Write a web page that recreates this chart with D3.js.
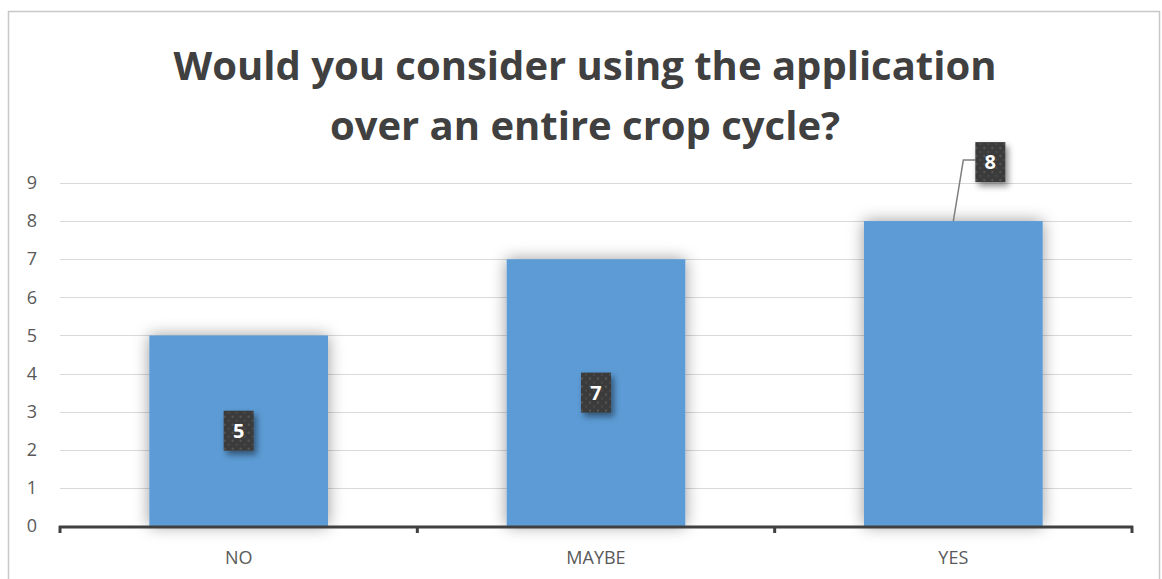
<!DOCTYPE html>
<html>
<head>
<meta charset="utf-8">
<script src="https://cdn.jsdelivr.net/npm/d3@7"></script>
<style>
  html, body { margin: 0; padding: 0; background: #fff; }
  svg { display: block; }
</style>
</head>
<body>
<svg id="chart" width="1162" height="579"></svg>
<script>
const categories = ["NO", "MAYBE", "YES"];
const values = [5, 7, 8];
const yTicks = [0, 1, 2, 3, 4, 5, 6, 7, 8, 9];
const titleLines = ["Would you consider using the application", "over an entire crop cycle?"];

const svg = d3.select("#chart");
const plot = { left: 60, right: 1132, top: 183, bottom: 526 };

const defs = svg.append("defs");

// soft glow around each bar
const glow = defs.append("filter").attr("id", "barGlow")
  .attr("x", "-25%").attr("y", "-10%").attr("width", "150%").attr("height", "120%");
glow.append("feDropShadow").attr("dx", 0).attr("dy", 0)
  .attr("stdDeviation", 8).attr("flood-color", "#000").attr("flood-opacity", 0.4);

// shadow under the data label boxes
const lblShadow = defs.append("filter").attr("id", "lblShadow")
  .attr("x", "-50%").attr("y", "-50%").attr("width", "200%").attr("height", "200%");
lblShadow.append("feDropShadow").attr("dx", 3).attr("dy", 4)
  .attr("stdDeviation", 3).attr("flood-color", "#000").attr("flood-opacity", 0.45);

// dotted fill for label boxes
const pat = defs.append("pattern").attr("id", "dots")
  .attr("width", 8).attr("height", 8).attr("patternUnits", "userSpaceOnUse");
pat.append("rect").attr("width", 8).attr("height", 8).attr("fill", "#3a3a3a");
pat.append("circle").attr("cx", 2).attr("cy", 2).attr("r", 1.2).attr("fill", "#555");
pat.append("circle").attr("cx", 6).attr("cy", 6).attr("r", 1.2).attr("fill", "#4a4a4a");

// chart frame
svg.append("rect").attr("x", 8.5).attr("y", 11.5).attr("width", 1151).attr("height", 600)
  .attr("fill", "#fff").attr("stroke", "#c8c8c8").attr("stroke-width", 1.5);

const x = d3.scaleBand().domain(categories).range([plot.left, plot.right])
  .paddingInner(0.5).paddingOuter(0.25);
const y = d3.scaleLinear().domain([0, 9]).range([plot.bottom, plot.top]);

// title
const title = svg.append("text").attr("text-anchor", "middle")
  .attr("font-family", "'Open Sans', sans-serif").attr("font-weight", 700)
  .attr("font-size", 40).attr("fill", "#404040");
titleLines.forEach((t, i) => {
  title.append("tspan").attr("x", 585).attr("y", 80 + i * 60).text(t);
});

// gridlines
svg.append("g").selectAll("line").data(yTicks.filter(d => d > 0)).join("line")
  .attr("x1", plot.left).attr("x2", plot.right)
  .attr("y1", d => Math.round(y(d)) + 0.5).attr("y2", d => Math.round(y(d)) + 0.5)
  .attr("stroke", "#d9d9d9").attr("stroke-width", 1);

// y axis labels
const yAxis = d3.axisLeft(y).tickValues(yTicks).tickSize(0).tickPadding(0);
const yg = svg.append("g").attr("transform", `translate(40,0)`).call(yAxis);
yg.select(".domain").remove();
yg.selectAll("text").attr("text-anchor", "middle").attr("x", -8)
  .attr("font-family", "'Open Sans', sans-serif").attr("font-size", 18).attr("fill", "#595959");

// bars
svg.append("g").selectAll("rect").data(values).join("rect")
  .attr("x", (d, i) => x(categories[i]))
  .attr("y", d => y(d))
  .attr("width", x.bandwidth())
  .attr("height", d => y(0) - y(d))
  .attr("fill", "#5b9bd5")
  .attr("filter", "url(#barGlow)");

// x axis
const step = x.step();
const bounds = [0, 1, 2, 3].map(i => plot.left + i * step);
svg.append("line").attr("x1", plot.left - 1).attr("x2", plot.right + 1)
  .attr("y1", plot.bottom + 1).attr("y2", plot.bottom + 1)
  .attr("stroke", "#404040").attr("stroke-width", 3);
svg.append("g").selectAll("line").data(bounds).join("line")
  .attr("x1", d => d).attr("x2", d => d)
  .attr("y1", plot.bottom).attr("y2", plot.bottom + 7)
  .attr("stroke", "#404040").attr("stroke-width", 3);
svg.append("g").selectAll("text").data(categories).join("text")
  .attr("x", d => x(d) + x.bandwidth() / 2).attr("y", 564)
  .attr("text-anchor", "middle")
  .attr("font-family", "'Open Sans', sans-serif").attr("font-size", 18).attr("fill", "#595959")
  .text(d => d);

// data labels
const boxW = 30, boxH = 40;
const labels = values.map((v, i) => {
  const cx = x(categories[i]) + x.bandwidth() / 2;
  if (i === values.length - 1) {
    // placed above the bar with a leader line
    return { v, cx: cx + 37, cy: y(v) - 59, leader: true, bx: cx };
  }
  return { v, cx, cy: y(v / 2), leader: false };
});

labels.filter(d => d.leader).forEach(d => {
  const lx = d.cx - boxW / 2;
  svg.append("polyline")
    .attr("points", `${lx},${d.cy - 2} ${lx - 12},${d.cy - 2} ${d.bx},${y(d.v)}`)
    .attr("fill", "none").attr("stroke", "#7f7f7f").attr("stroke-width", 1.5);
});

const lg = svg.append("g").selectAll("g").data(labels).join("g")
  .attr("transform", d => `translate(${d.cx},${d.cy})`);
lg.append("rect").attr("x", -boxW / 2).attr("y", -boxH / 2)
  .attr("width", boxW).attr("height", boxH)
  .attr("fill", "url(#dots)").attr("filter", "url(#lblShadow)");
lg.append("text").attr("text-anchor", "middle").attr("dy", "0.36em")
  .attr("font-family", "'Open Sans', sans-serif").attr("font-weight", 700)
  .attr("font-size", 20).attr("fill", "#fff")
  .text(d => d.v);
</script>
</body>
</html>
